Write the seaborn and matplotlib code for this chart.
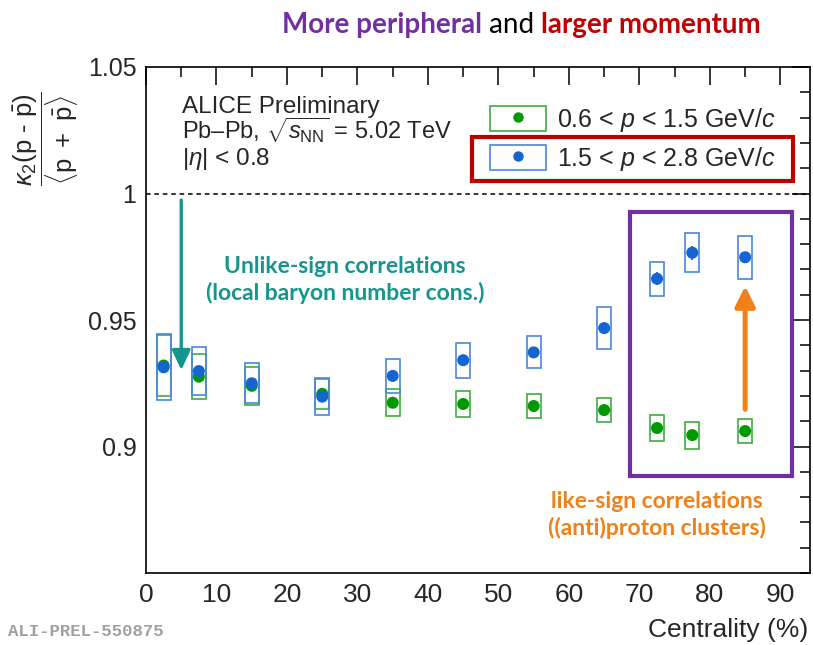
import numpy as np
import pandas as pd
import matplotlib
matplotlib.use("Agg")
import matplotlib.pyplot as plt
import seaborn as sns
from matplotlib.patches import Rectangle
from matplotlib.lines import Line2D
from matplotlib.legend_handler import HandlerTuple
from matplotlib.ticker import MultipleLocator, FixedLocator, FixedFormatter

# ---- data: normalised second cumulant of net-protons vs centrality ----
centrality = [2.5, 7.5, 15, 25, 35, 45, 55, 65, 72.5, 77.5, 85]
low_p = [0.9320, 0.9276, 0.9240, 0.9208, 0.9173, 0.9168, 0.9160, 0.9144, 0.9073, 0.9045, 0.9061]
low_p_sys = [0.0120, 0.0088, 0.0074, 0.0058, 0.0054, 0.0051, 0.0048, 0.0049, 0.0053, 0.0053, 0.0049]
low_p_stat = [0.0005, 0.0005, 0.0005, 0.0005, 0.0005, 0.0006, 0.0006, 0.0007, 0.0010, 0.0012, 0.0010]
high_p = [0.9313, 0.9298, 0.9250, 0.9197, 0.9279, 0.9341, 0.9372, 0.9468, 0.9663, 0.9766, 0.9748]
high_p_sys = [0.0130, 0.0096, 0.0080, 0.0074, 0.0068, 0.0070, 0.0063, 0.0084, 0.0067, 0.0078, 0.0084]
high_p_stat = [0.0008, 0.0008, 0.0008, 0.0008, 0.0010, 0.0012, 0.0014, 0.0017, 0.0025, 0.0028, 0.0022]
range_labels = [r"0.6 < $p$ < 1.5 GeV/$c$", r"1.5 < $p$ < 2.8 GeV/$c$"]
x_ticks = [0, 10, 20, 30, 40, 50, 60, 70, 80, 90]
y_ticks = [0.9, 0.95, 1.0, 1.05]
y_tick_labels = ["0.9", "0.95", "1", "1.05"]

# ---- style ----
sns.set_style("white")
plt.rcParams["font.family"] = ["Liberation Sans", "DejaVu Sans"]
plt.rcParams["mathtext.fontset"] = "custom"
plt.rcParams["mathtext.rm"] = "Liberation Sans"
plt.rcParams["mathtext.it"] = "Liberation Sans:italic"
plt.rcParams["mathtext.bf"] = "Liberation Sans:bold"

dot_green, box_green = "#009a00", "#3cae3c"
dot_blue, box_blue = "#1565d0", "#4a86dc"
purple, darkred = "#7030a0", "#c00000"
teal, orange = "#14968c", "#f08018"

W, H = 813, 645
fig = plt.figure(figsize=(W / 100, H / 100), dpi=100)
fig.patch.set_facecolor("white")
ax = fig.add_axes([146 / W, 1 - 573 / H, (810 - 146) / W, (573 - 67) / H])
ax.set_facecolor("white")

df = pd.DataFrame({
    "centrality": centrality * 2,
    "value": low_p + high_p,
    "range": [range_labels[0]] * len(centrality) + [range_labels[1]] * len(centrality),
})

# systematic uncertainty boxes
ax.bar(centrality, [2 * s for s in low_p_sys], bottom=[v - s for v, s in zip(low_p, low_p_sys)],
       width=2.0, fill=False, edgecolor=box_green, linewidth=1.2, zorder=2)
ax.bar(centrality, [2 * s for s in high_p_sys], bottom=[v - s for v, s in zip(high_p, high_p_sys)],
       width=2.0, fill=False, edgecolor=box_blue, linewidth=1.2, zorder=3)

# statistical uncertainties
ax.errorbar(centrality, low_p, yerr=low_p_stat, fmt="none", ecolor=dot_green, elinewidth=1.2, zorder=4)
ax.errorbar(centrality, high_p, yerr=high_p_stat, fmt="none", ecolor=dot_blue, elinewidth=1.2, zorder=5)

sns.scatterplot(data=df, x="centrality", y="value", hue="range",
                palette={range_labels[0]: dot_green, range_labels[1]: dot_blue},
                s=75, linewidth=0, legend=False, ax=ax, zorder=6)

# reference line at unity
ax.axhline(1.0, color="black", linestyle=(0, (3, 2.5)), linewidth=1.1, zorder=1)

ax.set_xlim(0, 94.2)
ax.set_ylim(0.85, 1.05)
ax.xaxis.set_major_locator(FixedLocator(x_ticks))
ax.xaxis.set_minor_locator(MultipleLocator(5))
ax.yaxis.set_major_locator(FixedLocator(y_ticks))
ax.yaxis.set_major_formatter(FixedFormatter(y_tick_labels))
ax.yaxis.set_minor_locator(MultipleLocator(0.01))
ax.tick_params(which="both", direction="in", top=True, right=True, width=1.1, color="black")
ax.tick_params(which="major", length=13)
ax.tick_params(which="minor", length=7)
ax.tick_params(axis="x", labelsize=19, pad=7)
ax.tick_params(axis="y", labelsize=18, pad=7)
for sp in ax.spines.values():
    sp.set_linewidth(1.2)
    sp.set_color("black")
ax.set_xlabel("")
ax.set_ylabel("")

# axis titles
fig.text(808 / W, 1 - 637 / H, "Centrality (%)", ha="right", va="baseline", fontsize=19)
fig.text(46 / W, 1 - 139 / H,
         r"$\dfrac{\kappa_2(\mathrm{p}\ \text{-}\ \bar{\mathrm{p}})}{\langle\mathrm{p}\ +\ \bar{\mathrm{p}}\rangle}$",
         rotation=90, ha="center", va="center", fontsize=18.5)

# experiment labels
ax.text(0.054, 1 - (112.7 - 67) / 506, "ALICE Preliminary", transform=ax.transAxes,
        fontsize=17.5, va="baseline", ha="left")
ax.text(0.054, 1 - (139.3 - 67) / 506, r"Pb–Pb, $\sqrt{s_{\mathrm{NN}}}$ = 5.02 TeV",
        transform=ax.transAxes, fontsize=17, va="baseline", ha="left")
ax.text(0.054, 1 - (165.5 - 67) / 506, r"$|\eta|$ < 0.8", transform=ax.transAxes,
        fontsize=17.5, va="baseline", ha="left")

# legend
handles = [
    (Rectangle((0, 0), 1, 1, fill=False, edgecolor=box_green, linewidth=1.2),
     Line2D([], [], marker="o", linestyle="", color=dot_green, markersize=6.5)),
    (Rectangle((0, 0), 1, 1, fill=False, edgecolor=box_blue, linewidth=1.2),
     Line2D([], [], marker="o", linestyle="", color=dot_blue, markersize=6.5)),
]
ax.legend(handles, range_labels, handler_map={tuple: HandlerTuple(ndivide=1)},
          loc="upper left", bbox_to_anchor=((490 - 146) / 664, 1 - (106 - 67) / 506),
          frameon=False, fontsize=18, numpoints=1, borderpad=0, borderaxespad=0,
          handlelength=2.24, handleheight=1.16, handletextpad=0.44, labelspacing=0.45)

# highlight boxes
ax.add_patch(Rectangle(((472 - 146) / 664, 1 - (180.7 - 67) / 506), (793 - 472) / 664,
                       (180.7 - 136.7) / 506, transform=ax.transAxes, fill=False,
                       edgecolor="#bc0000", linewidth=3.0, zorder=7, clip_on=False))
ax.add_patch(Rectangle((68.6, 0.8883), 91.6 - 68.6, 0.9926 - 0.8883, fill=False,
                       edgecolor=purple, linewidth=3.0, zorder=7))

# arrows
ax.annotate("", xy=(5.0, 0.9302), xytext=(5.0, 0.9974),
            arrowprops=dict(arrowstyle="-|>,head_length=0.6,head_width=0.28", color=teal,
                            linewidth=2.4, shrinkA=0, shrinkB=0, mutation_scale=20), zorder=8)
ax.annotate("", xy=(85.0, 0.9634), xytext=(85.0, 0.9147),
            arrowprops=dict(arrowstyle="-|>,head_length=0.6,head_width=0.3", color=orange,
                            linewidth=3.6, shrinkA=0, shrinkB=0, mutation_scale=20), zorder=8)

# annotations
ax.text(28.2, 0.9658, "Unlike-sign correlations\n(local baryon number cons.)",
        color=teal, fontfamily="Lato", fontweight="bold", fontsize=16.5, ha="center", va="center",
        linespacing=1.25)
ax.text(72.5, 0.8729, "like-sign correlations\n((anti)proton clusters)",
        color=orange, fontfamily="Lato", fontweight="bold", fontsize=16.5, ha="center", va="center",
        linespacing=1.25, clip_on=False)

# headline
t1 = fig.text(282 / W, 1 - 33 / H, "More peripheral", color=purple, fontfamily="Lato",
              fontweight="bold", fontsize=20, va="baseline", ha="left")
t2 = ax.annotate(" and ", xy=(1, 0), xycoords=t1, va="bottom", ha="left", color="black",
                 fontfamily="Lato", fontsize=20, annotation_clip=False)
t3 = ax.annotate("larger momentum", xy=(1, 0), xycoords=t2, va="bottom", ha="left", color=darkred,
                 fontfamily="Lato", fontweight="bold", fontsize=20, annotation_clip=False)

fig.text(8 / W, 1 - 631 / H, "ALI-PREL-550875", color="#a0a0a0", fontfamily="Liberation Mono",
         fontweight="bold", fontsize=12.5, ha="left", va="center")

fig.savefig("out.png", dpi=100, facecolor="white")
